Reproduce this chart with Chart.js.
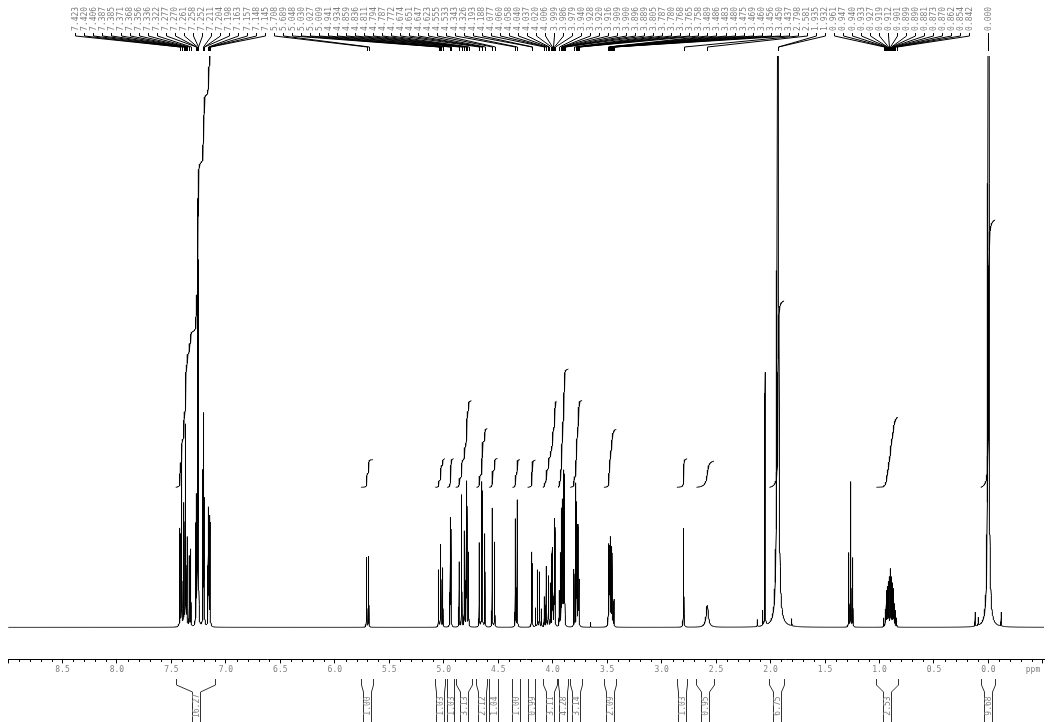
<!DOCTYPE html>
<html><head><meta charset="utf-8">
<script src="https://cdn.jsdelivr.net/npm/chart.js@4/dist/chart.umd.min.js"></script>
<style>html,body{margin:0;padding:0;background:#fff}#wrap{width:1049px;height:722px}</style>
</head><body><div id="wrap"><canvas id="c" width="1049" height="722"></canvas></div>
<script>
// ---- labelled peaks (ppm) and their heights (px above baseline)
const peakPpm = [7.423,7.420,7.406,7.387,7.385,7.371,7.368,7.356,7.336,7.322,7.277,7.270,7.261,7.258,7.252,7.211,7.204,7.198,7.163,7.157,7.148,7.145,
5.708,5.689,5.048,5.030,5.027,5.009,4.941,4.934,4.859,4.836,4.811,4.794,4.787,4.772,4.674,4.651,4.647,4.623,4.555,4.533,4.343,4.326,4.193,4.188,
4.077,4.060,4.058,4.040,4.037,4.020,4.006,3.999,3.986,3.979,3.940,3.928,3.920,3.916,3.909,3.900,3.896,3.889,3.805,3.787,3.780,3.768,3.765,3.758,
3.489,3.486,3.483,3.480,3.475,3.469,3.460,3.456,3.450,3.437,2.798,2.581,1.935,1.932,
0.961,0.947,0.940,0.933,0.927,0.919,0.912,0.901,0.899,0.890,0.881,0.873,0.870,0.862,0.854,0.842,0.000];
const peakHeight = [87,80,167,97,90,179,160,87,70,77,97,120,385,250,350,150,205,120,115,100,97,90,
70,71,57,73,70,59,107,104,65,132,95,142,127,74,84,135,125,93,119,85,108,127,72,60,
30,48,45,45,42,43,77,70,105,99,35,70,107,100,120,142,138,63,57,140,120,89,85,44,
55,64,60,64,58,85,70,72,45,27,99,22,1800,2600,
9,16,24,34,38,43,48,43,45,48,42,33,30,22,16,9,3000];
// ---- unlabelled lines (solvent / impurities)
const extraPpm = [4.157,4.139,4.121,4.103,3.652,2.121,2.072,2.051,1.806,1.282,1.264,1.246,0.122,0.093,-0.117];
const extraHeight = [19,57,55,18,5,7,15,253,7,74,145,69,14,8,14];
// ---- broader lines (half width, ppm)
const broadPpm = [2.581,1.935,1.932,0.000,2.798];
const broadWidth = [0.012,0.0025,0.0025,0.0025,0.0016];
// ---- integrals
const integralFrom  = [7.46,5.76,5.08,4.97,4.89,4.70,4.585,4.37,4.23,4.09,3.95,3.84,3.53,2.86,2.68,2.01,1.03,0.07];
const integralTo    = [7.10,5.65,4.99,4.91,4.745,4.60,4.505,4.30,4.16,3.965,3.855,3.73,3.415,2.765,2.52,1.875,0.83,-0.06];
const integralValue = [16.27,1.00,1.03,1.03,3.13,2.12,1.04,1.00,0.99,3.11,4.28,3.14,2.09,1.03,0.95,6.75,2.53,9.68];
// ---- axis
const axisMin = -0.51, axisMax = 9.0, majorStep = 0.5, minorStep = 0.1;

const DEF_W = 0.0012;
const lines = [];
peakPpm.forEach((p,i)=>{ const k = broadPpm.indexOf(p); lines.push({p, h: peakHeight[i], w: k>=0 ? broadWidth[k] : DEF_W}); });
extraPpm.forEach((p,i)=>lines.push({p, h: extraHeight[i], w: DEF_W}));

// sample positions: coarse grid + points around each line
const xsSet = [];
for (let x = axisMin; x <= axisMax + 1e-9; x += 0.002) xsSet.push(+x.toFixed(5));
lines.forEach(l => [0,0.3,0.7,1.5,3,6,12].forEach(f => { xsSet.push(l.p + f*l.w); xsSet.push(l.p - f*l.w); }));
xsSet.sort((a,b)=>a-b);
const xsArr = xsSet.filter((v,i)=> i===0 || v - xsSet[i-1] > 1e-7);
const spec = xsArr.map(x => { let y = 0; for (const l of lines) { const d = (x-l.p)/l.w; y += l.h/(1+d*d); } return {x, y}; });

// integral curves
const INT_BASE = 140, PX_PER_UNIT = 27.6;
const intSets = integralFrom.map((a,i) => {
  const b = integralTo[i];
  const pts = spec.filter(p => p.x <= a && p.x >= b).reverse();
  let cum = 0; const c = [0];
  for (let j=1;j<pts.length;j++){ cum += (pts[j-1].y + pts[j].y)/2 * Math.abs(pts[j-1].x - pts[j].x); c.push(cum); }
  const data = pts.map((p,j)=>({x:p.x, y: INT_BASE + integralValue[i]*PX_PER_UNIT*c[j]/cum})).reverse();
  return {data, borderColor:'#000', borderWidth:1, pointRadius:0, fill:false, tension:0};
});

const MONO = 'DejaVu Sans Mono';
const axisExtras = {
  id:'axisExtras',
  afterDraw(chart){
    const ctx = chart.ctx, xs = chart.scales.x, y0 = chart.chartArea.bottom;
    ctx.save(); ctx.strokeStyle = '#000'; ctx.lineWidth = 1;
    for (let i = Math.ceil(axisMin/minorStep); i*minorStep <= axisMax + 1e-9; i++) {
      const v = i*minorStep; if (Math.abs(v/majorStep - Math.round(v/majorStep)) < 1e-6) continue;
      const px = Math.round(xs.getPixelForValue(v)) + 0.5;
      ctx.beginPath(); ctx.moveTo(px, y0); ctx.lineTo(px, y0+2.5); ctx.stroke();
    }
    ctx.fillStyle = '#808080'; ctx.font = '8px "'+MONO+'"'; ctx.textAlign='center'; ctx.textBaseline='top';
    ctx.fillText('ppm', 1033, y0+7);
    ctx.restore();
  }
};

const peakLabels = {
  id:'peakLabels',
  afterDraw(chart){
    const ctx = chart.ctx, xs = chart.scales.x, gap = 9.03;
    const items = peakPpm.map(p => ({p, px: xs.getPixelForValue(p)})).sort((a,b)=>a.px-b.px);
    let groups = items.map(it => ({m:[it], sum: it.px}));
    let merged = true;
    const start = g => g.sum/g.m.length - (g.m.length-1)*gap/2;
    while (merged) {
      merged = false; const out = [];
      for (const g of groups) {
        if (out.length) { const pr = out[out.length-1];
          if (start(g) - (start(pr) + (pr.m.length-1)*gap) < gap) { pr.m = pr.m.concat(g.m); pr.sum += g.sum; merged = true; continue; } }
        out.push(g);
      }
      groups = out;
    }
    ctx.save(); ctx.font = '8px "'+MONO+'"'; ctx.fillStyle = '#808080'; ctx.strokeStyle = '#000'; ctx.lineWidth = 1;
    groups.forEach(g => { const s = start(g); g.m.forEach((it,k) => {
      const lx = s + k*gap, px = it.px;
      ctx.save(); ctx.translate(lx, 31); ctx.rotate(-Math.PI/2); ctx.textAlign='left'; ctx.textBaseline='middle';
      ctx.fillText(it.p.toFixed(3), 0, 0.5); ctx.restore();
      ctx.beginPath(); ctx.moveTo(Math.round(lx)+0.5, 33); ctx.lineTo(Math.round(lx)+0.5, 36);
      ctx.lineTo(Math.round(px)+0.5, 47); ctx.lineTo(Math.round(px)+0.5, 51); ctx.stroke();
    }); });
    ctx.restore();
  }
};

const integralMarks = {
  id:'integralMarks',
  afterDraw(chart){
    const ctx = chart.ctx, xs = chart.scales.x, half = 4.5;
    ctx.save(); ctx.strokeStyle = '#333'; ctx.lineWidth = 1; ctx.font = '8px "'+MONO+'"'; ctx.fillStyle='#808080';
    integralFrom.forEach((a,i) => {
      const x1 = Math.round(xs.getPixelForValue(a))+0.5, x2 = Math.round(xs.getPixelForValue(integralTo[i]))+0.5;
      const mid = (x1+x2)/2;
      const il = (x2-x1)/2 > half ? Math.round(mid-half)+0.5 : x1, ir = (x2-x1)/2 > half ? Math.round(mid+half)-0.5 : x2;
      ctx.beginPath(); ctx.moveTo(x1,679); ctx.lineTo(x1,685); ctx.lineTo(il,692); ctx.lineTo(il,722); ctx.stroke();
      ctx.beginPath(); ctx.moveTo(x2,679); ctx.lineTo(x2,685); ctx.lineTo(ir,692); ctx.lineTo(ir,722); ctx.stroke();
      ctx.save(); ctx.translate(mid, 706); ctx.rotate(-Math.PI/2); ctx.textAlign='center'; ctx.textBaseline='middle';
      ctx.fillText(integralValue[i].toFixed(2), 0, 0.5); ctx.restore();
    });
    ctx.restore();
  }
};

new Chart(document.getElementById('c'), {
  type:'line',
  data:{ datasets:[{data:spec, borderColor:'#000', borderWidth:1, pointRadius:0, fill:false, tension:0}, ...intSets] },
  options:{
    responsive:false, animation:false, devicePixelRatio:1, parsing:false, normalized:true, events:[],
    layout:{ padding:{ top:56, left:8, right:5, bottom:45 } },
    plugins:{ legend:{display:false}, tooltip:{enabled:false} },
    scales:{
      x:{ type:'linear', reverse:true, min:axisMin, max:axisMax,
          border:{display:true, color:'#000', width:1},
          grid:{ drawOnChartArea:false, drawTicks:true, tickLength:4, color:'#000' },
          ticks:{ stepSize:majorStep, includeBounds:false, autoSkip:false, maxRotation:0, padding:2, color:'#808080',
                  font:{family:MONO, size:8}, callback:v => (v < -0.01 || v > 8.99) ? '' : Number(v).toFixed(1) } },
      y:{ display:false, min:-32, max:571 }
    }
  },
  plugins:[axisExtras, peakLabels, integralMarks]
});
</script></body></html>
